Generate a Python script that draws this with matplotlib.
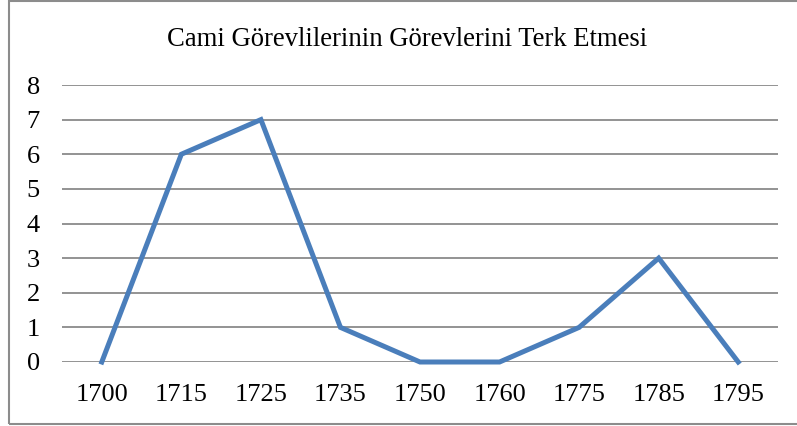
import matplotlib
matplotlib.use("Agg")
import matplotlib.pyplot as plt
from matplotlib.patches import Rectangle

categories = ["1700", "1715", "1725", "1735", "1750", "1760", "1775", "1785", "1795"]
values = [0, 6, 7, 1, 0, 0, 1, 3, 0]
title = "Cami Görevlilerinin Görevlerini Terk Etmesi"

W, H = 797, 426
fig = plt.figure(figsize=(W / 100, H / 100), dpi=100)
plt.rcParams['font.family'] = ['Liberation Serif', 'DejaVu Serif']

# outer border
fig.patches.append(Rectangle((9 / W, 1 - 424 / H), (800 - 9) / W, (424 - 1) / H,
                             transform=fig.transFigure, fill=False,
                             edgecolor='#8c8c8c', linewidth=1.5))

ax = fig.add_axes([62 / W, 1 - 362 / H, (778 - 62) / W, (362 - 85) / H])
x = list(range(len(categories)))
ax.plot(x, values, color='#4a7ebb', linewidth=3.6, solid_joinstyle='miter', zorder=3)
ax.set_xlim(-0.5, len(categories) - 0.5)
ax.set_ylim(0, 8)
ax.set_yticks(range(0, 9))
ax.set_xticks(x)
ax.set_xticklabels(categories)
ax.grid(axis='y', color='#8a8a8a', linewidth=1.3)
ax.set_axisbelow(True)
for s in ax.spines.values():
    s.set_visible(False)
ax.tick_params(axis='both', length=0, labelsize=19, colors='black')
ax.tick_params(axis='y', pad=16)
ax.tick_params(axis='x', pad=16)
for ln in ax.lines:
    ln.set_clip_on(False)

fig.text((166 + 648) / 2 / W, 1 - 40 / H, title, ha='center', va='center', fontsize=19.2)

fig.savefig("out.png", dpi=100)
